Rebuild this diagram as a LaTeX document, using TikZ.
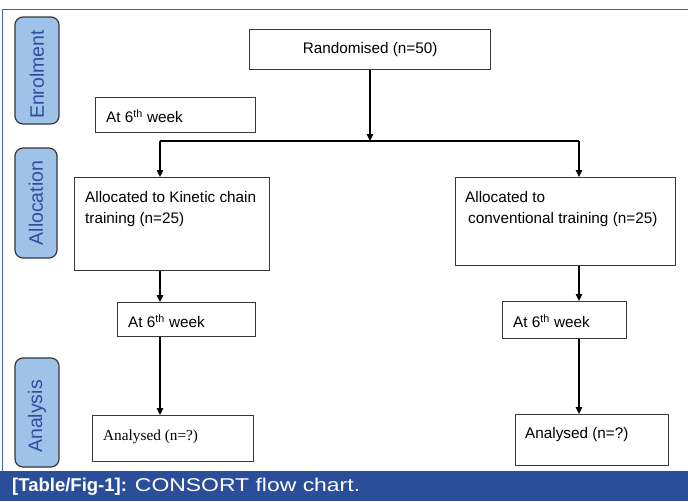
\documentclass[tikz,border=0pt]{standalone}
\usepackage{fontspec}
\setmainfont{Liberation Sans}
\newfontfamily\timesf{Liberation Serif}
\newfontfamily\capwide[FakeStretch=1.24]{Liberation Sans}
\usetikzlibrary{arrows.meta}
\definecolor{pillfill}{RGB}{158,194,232}
\definecolor{pilltext}{RGB}{47,77,158}
\definecolor{capblue}{RGB}{42,78,154}
\definecolor{frameblue}{RGB}{60,100,176}
\definecolor{edge}{RGB}{55,55,55}
\begin{document}
\begin{tikzpicture}[x=1pt,y=-1pt,
  txt/.style={font=\fontsize{15.3}{20.5}\selectfont},
  box/.style={draw=edge, line width=1.3pt, rectangle, inner sep=0pt, anchor=north west},
  lab/.style={anchor=base west, inner sep=0pt, xshift=11pt, yshift=-25.5pt, txt},
  pill/.style={draw=edge, fill=pillfill, rounded corners=8pt, line width=1.2pt, rotate=90,
    text=pilltext, font=\fontsize{19.5}{19.5}\selectfont, inner sep=0pt},
  arr/.style={-{Triangle[length=7pt,width=6.5pt]}, line width=1.3pt, black},
  conn/.style={line width=1.3pt, black}]
\useasboundingbox (0,0) rectangle (688,501);
\fill[white] (0,0) rectangle (688,501);
% frame and caption
\draw[frameblue, line width=1.2pt] (2.5,471) -- (2.5,9.5) -- (688,9.5);
\fill[capblue] (0,471) rectangle (688,501);
\node[anchor=base west, text=white, font=\fontsize{18.5}{20}\selectfont, inner sep=0pt] (cap) at (12,491)
  {\textbf{[Table/Fig-1]:}\hspace{8pt}{\capwide CONSORT flow chart.}};
% phase pills
\node[pill, minimum width=107pt, minimum height=44pt] (enr) at (37,70.5) {Enrolment\hspace*{8pt}};
\node[pill, minimum width=110pt, minimum height=42pt] (alo) at (36,203) {Allocation};
\node[pill, minimum width=109pt, minimum height=44pt] (ana) at (37,412.5) {Analysis\hspace*{8pt}};
% boxes
\node[box, minimum width=241pt, minimum height=40pt, txt] (rand) at (249,29) {Randomised (n=50)};
\node[box, minimum width=160pt, minimum height=35pt,
  label={[lab]north west:{At 6\textsuperscript{th} week}}] (w0) at (95,97) {};
\node[box, minimum width=195pt, minimum height=93pt,
  label={[lab]north west:{\begin{tabular}[t]{@{}l@{}}Allocated to Kinetic chain\\training (n=25)\end{tabular}}}] (aL) at (74,177) {};
\node[box, minimum width=220pt, minimum height=88pt,
  label={[lab, xshift=-1pt]north west:{\begin{tabular}[t]{@{}l@{}}Allocated to\\\hspace*{3pt}conventional training (n=25)\end{tabular}}}] (aR) at (455,177) {};
\node[box, minimum width=138pt, minimum height=34pt,
  label={[lab]north west:{At 6\textsuperscript{th} week}}] (wL) at (117,302) {};
\node[box, minimum width=124pt, minimum height=37pt,
  label={[lab, yshift=-1pt]north west:{At 6\textsuperscript{th} week}}] (wR) at (502,301) {};
\node[box, minimum width=161pt, minimum height=46pt,
  label={[lab, yshift=0.5pt]north west:{\timesf Analysed (n=?)}}] (anL) at (92,415) {};
\node[box, minimum width=153pt, minimum height=51pt,
  label={[lab, xshift=-1pt, yshift=1.5pt]north west:{Analysed (n=?)}}] (anR) at (515,414) {};
% connectors
\coordinate (jM) at (370,141);
\coordinate (jL) at (160,141);
\coordinate (jR) at (579,141);
\draw[arr] (rand.south -| jM) -- (jM);
\draw[conn] (jL) -- (jR);
\draw[arr] (jL) -- (jL |- aL.north);
\draw[arr] (jR) -- (jR |- aR.north);
\draw[arr] (jL |- aL.south) -- (jL |- wL.north);
\draw[arr] (jR |- aR.south) -- (jR |- wR.north);
\draw[arr] (jL |- wL.south) -- (jL |- anL.north);
\draw[arr] (jR |- wR.south) -- (jR |- anR.north);
\end{tikzpicture}
\end{document}
